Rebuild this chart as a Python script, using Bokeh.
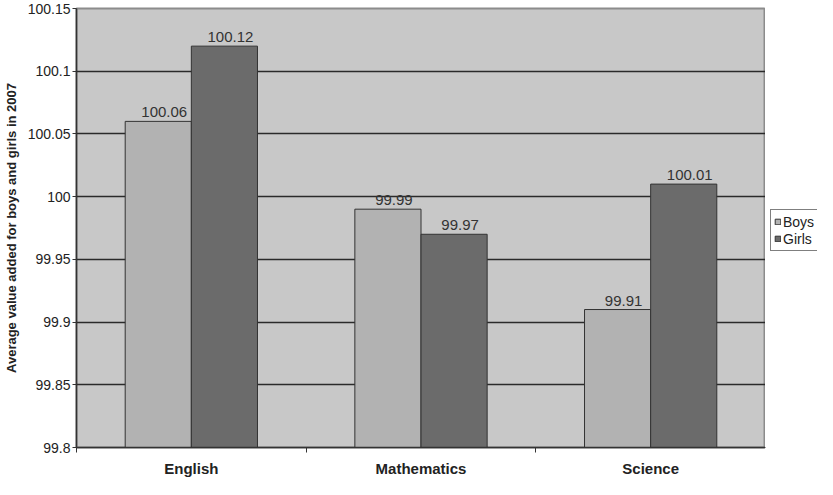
from bokeh.plotting import figure
from bokeh.layouts import row
from bokeh.models import FixedTicker, Legend, LegendItem
from bokeh.core.properties import value
from bokeh.embed import file_html
from bokeh.resources import INLINE

subjects = ["English", "Mathematics", "Science"]
series = ["Boys", "Girls"]
boys = [100.06, 99.99, 99.91]
girls = [100.12, 99.97, 100.01]
y_ticks = [99.8, 99.85, 99.9, 99.95, 100.0, 100.05, 100.1, 100.15]
y_tick_labels = ["99.8", "99.85", "99.9", "99.95", "100", "100.05", "100.1", "100.15"]
colors = ["#b2b2b2", "#6b6b6b"]

BASE = y_ticks[0]
TOP = y_ticks[-1]
BAR_W = 0.288
FONT = "Liberation Sans"
TXT = "#333333"
H = 479

centers = [i + 0.5 for i in range(len(subjects))]
bounds = [float(i) for i in range(len(subjects) + 1)]

p = figure(width=765, height=H, output_backend="svg", toolbar_location=None,
           x_range=(0, len(subjects)), y_range=(BASE, TOP),
           min_border_left=72, min_border_top=8, min_border_bottom=24, min_border_right=0)

p.background_fill_color = "#c8c8c8"
p.border_fill_color = "white"
p.outline_line_color = "#8c8c8c"
p.outline_line_width = 2

renderers = []
for k, (name, vals) in enumerate(zip(series, [boys, girls])):
    off = (k - 0.5) * BAR_W
    xs = [c + off for c in centers]
    r = p.vbar(x=xs, top=vals, bottom=BASE, width=BAR_W, fill_color=colors[k],
               line_color="#333333", line_width=1)
    renderers.append(r)
    p.text(x=xs, y=vals, text=[f"{v:g}" for v in vals], text_align="center",
           text_baseline="bottom", x_offset=6, y_offset=-4,
           text_font=value(FONT), text_font_size="15px", text_color=TXT)

# x axis
p.xaxis.ticker = FixedTicker(ticks=centers, minor_ticks=bounds)
p.xaxis.major_label_overrides = {c: s for c, s in zip(centers, subjects)}
p.xaxis.major_tick_line_color = None
p.xaxis.major_tick_out = 0
p.xaxis.major_tick_in = 0
p.xaxis.minor_tick_line_color = "#333333"
p.xaxis.minor_tick_out = 5
p.xaxis.minor_tick_in = 0
p.xaxis.axis_line_color = "#333333"
p.xaxis.axis_line_width = 1.5
p.xaxis.major_label_standoff = 7
p.xaxis.major_label_text_font = FONT
p.xaxis.major_label_text_font_style = "bold"
p.xaxis.major_label_text_font_size = "15px"
p.xaxis.major_label_text_color = "#222222"

# y axis
p.yaxis.ticker = FixedTicker(ticks=y_ticks)
p.yaxis.major_label_overrides = {t: s for t, s in zip(y_ticks, y_tick_labels)}
p.yaxis.major_tick_out = 4
p.yaxis.major_tick_in = 0
p.yaxis.minor_tick_line_color = None
p.yaxis.major_tick_line_color = "#333333"
p.yaxis.axis_line_color = "#333333"
p.yaxis.axis_line_width = 1.5
p.yaxis.major_label_standoff = 2
p.yaxis.major_label_text_font = FONT
p.yaxis.major_label_text_font_size = "14px"
p.yaxis.major_label_text_color = "#222222"
p.yaxis.axis_label = "Average value added for boys and girls in 2007"
p.yaxis.axis_label_text_font = FONT
p.yaxis.axis_label_text_font_style = "bold"
p.yaxis.axis_label_text_font_size = "13px"
p.yaxis.axis_label_text_color = "#222222"
p.yaxis.axis_label_standoff = 6

p.xgrid.grid_line_color = None
p.ygrid.ticker = FixedTicker(ticks=y_ticks[:-1])
p.ygrid.grid_line_color = "#2a2a2a"
p.ygrid.grid_line_width = 1.5

# legend panel (swatches drawn from off-screen proxy glyphs)
pl = figure(width=52, height=H, output_backend="svg", toolbar_location=None,
            x_range=(0, 1), y_range=(0, 1), min_border=0)
pl.axis.visible = False
pl.grid.grid_line_color = None
pl.outline_line_color = None
pl.background_fill_color = "white"
pl.border_fill_color = "white"
leg_r = [pl.vbar(x=[-5], top=[-5], bottom=[-6], width=0.1, fill_color=c,
                 line_color="#333333", line_width=1) for c in colors]
legend = Legend(items=[LegendItem(label=s, renderers=[r]) for s, r in zip(series, leg_r)],
                location=(5, 196), border_line_color="black", border_line_width=1,
                background_fill_color="white", background_fill_alpha=1,
                label_text_font=FONT, label_text_font_size="14px", label_text_color="#222222",
                glyph_width=7, glyph_height=7, label_standoff=2, label_height=17,
                spacing=0, padding=3, margin=0)
pl.add_layout(legend)

layout = row(p, pl)
open("out.html", "w").write(file_html(layout, INLINE))
